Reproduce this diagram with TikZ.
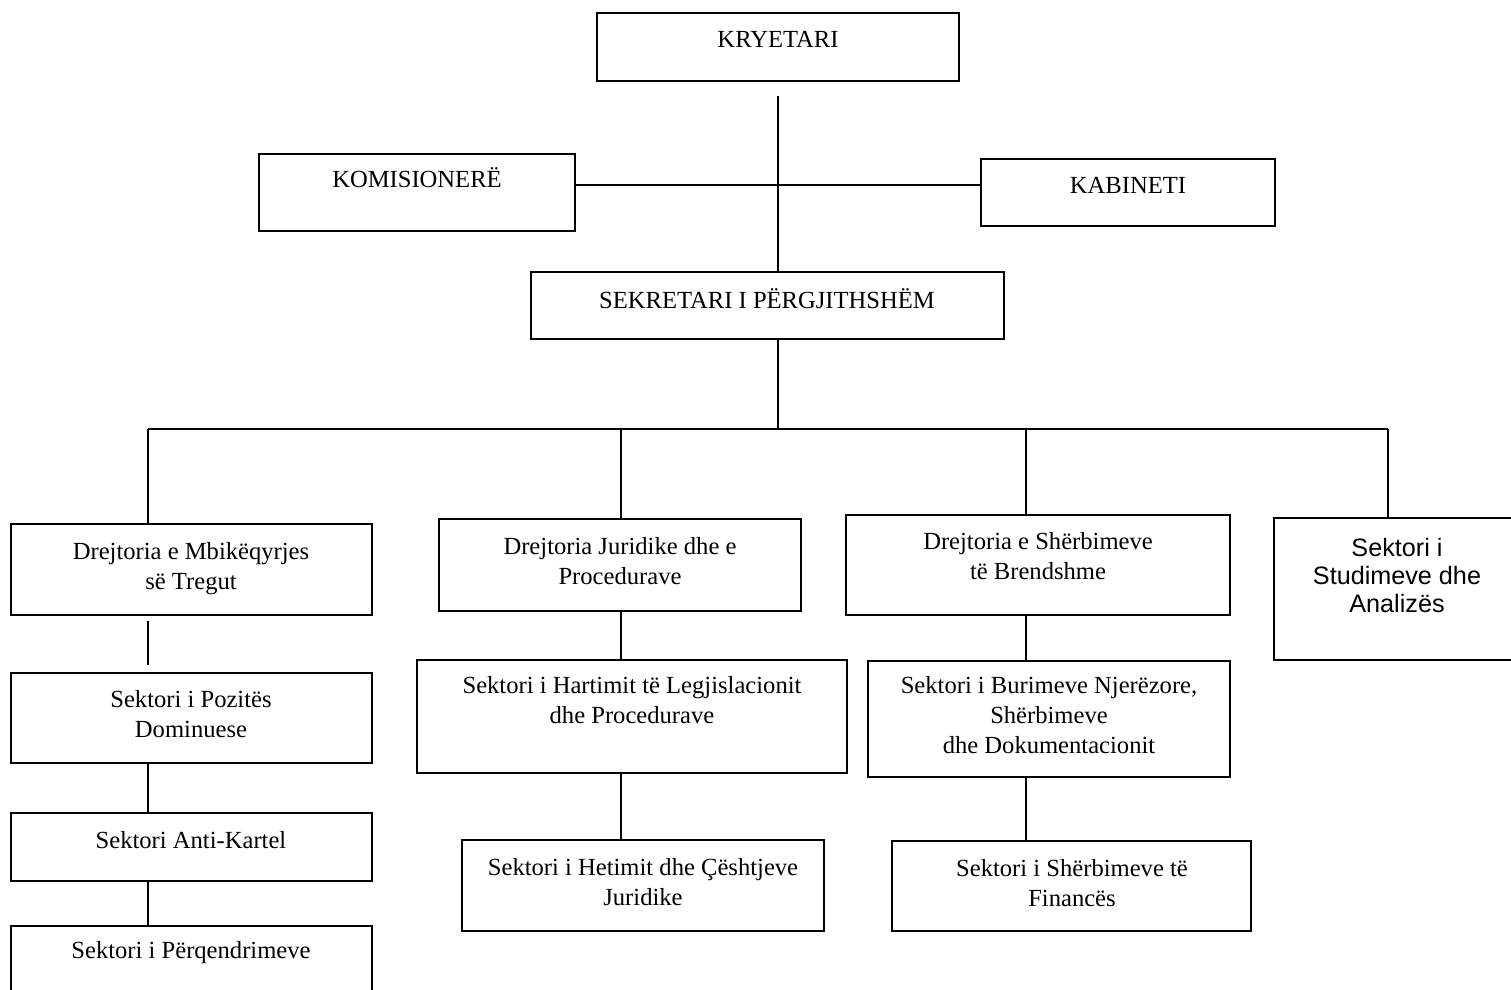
\documentclass[tikz,border=0pt]{standalone}
\usepackage{fontspec}
\setmainfont{Liberation Serif}
\newfontfamily\arialfont{Liberation Sans}
\newcommand\orgbox[5]{%
  \node[obox, minimum width={0.5pt*(#4-#2)}, minimum height={0.5pt*(#5-#3)}] (#1) at ({(#2+#4)/2},{(#3+#5)/2}) {};}
\newcommand\ml[1]{\begin{tabular}[t]{@{}c@{}}#1\end{tabular}}
\begin{document}
\begin{tikzpicture}[x=0.5pt,y=-0.5pt,
  obox/.style={draw, line width=1pt, inner sep=0pt},
  txt/.style={inner sep=0pt, anchor=base, font=\fontsize{12.3}{15}\selectfont},
  atxt/.style={inner sep=0pt, anchor=base, font=\arialfont\fontsize{12.6}{14}\selectfont},
  conn/.style={line width=0.9pt}]
\useasboundingbox (0,0) rectangle (1511,990);
\clip (0,0) rectangle (1511,990);
% boxes
\orgbox{kry}{597}{13}{959}{81}
\orgbox{kom}{259}{154}{575}{231}
\orgbox{kab}{981}{159}{1275}{226}
\orgbox{sek}{531}{272}{1004}{339}
\orgbox{d1}{11}{524}{372}{615}
\orgbox{s11}{11}{673}{372}{763}
\orgbox{s12}{11}{813}{372}{881}
\orgbox{s13}{11}{926}{372}{1010}
\orgbox{d2}{439}{519}{801}{611}
\orgbox{s21}{417}{660}{847}{773}
\orgbox{s22}{462}{840}{824}{931}
\orgbox{d3}{846}{515}{1230}{615}
\orgbox{s31}{868}{661}{1230}{777}
\orgbox{s32}{892}{841}{1251}{931}
\orgbox{d4}{1274}{518}{1530}{660}
% texts
\node[txt] (tkry) at (778,48) {KRYETARI};
\node[txt] (tkom) at (417,187) {KOMISIONERË};
\node[txt] (tkab) at (1128,193) {KABINETI};
\node[txt] (tsek) at (767,308) {SEKRETARI I PËRGJITHSHËM};
\node[txt] (td1) at (191,559) {\ml{Drejtoria e Mbikëqyrjes\\së Tregut}};
\node[txt] (ts11) at (191,707) {\ml{Sektori i Pozitës\\Dominuese}};
\node[txt] (ts12) at (191,848) {Sektori Anti-Kartel};
\node[txt] (ts13) at (191,958) {Sektori i Përqendrimeve};
\node[txt] (td2) at (620,554) {\ml{Drejtoria Juridike dhe e\\Procedurave}};
\node[txt] (ts21) at (632,693) {\ml{Sektori i Hartimit të Legjislacionit\\dhe Procedurave}};
\node[txt] (ts22) at (643,875) {\ml{Sektori i Hetimit dhe Çështjeve\\Juridike}};
\node[txt] (td3) at (1038,549) {\ml{Drejtoria e Shërbimeve\\të Brendshme}};
\node[txt] (ts31) at (1049,693) {\ml{Sektori i Burimeve Njerëzore,\\Shërbimeve\\dhe Dokumentacionit}};
\node[txt] (ts32) at (1072,876) {\ml{Sektori i Shërbimeve të\\Financës}};
\node[atxt] (td4) at (1397,556) {\ml{Sektori i\\Studimeve dhe\\Analizës}};
% connectors
\coordinate (c0) at ([yshift=-7pt]kry.south);
\draw[conn] (c0) -- (c0 |- sek.north);
\draw[conn] ([yshift=3.75pt]kom.east) -- ([yshift=3.75pt]kab.west);
\coordinate (b0) at (778,429);
\coordinate (b1) at (148,429);
\coordinate (b2) at (621,429);
\coordinate (b3) at (1026,429);
\coordinate (b4) at (1388,429);
\draw[conn] (b0 |- sek.south) -- (b0);
\draw[conn] (b1) -- (b4);
\draw[conn] (b1) -- (b1 |- d1.north);
\draw[conn] (b2) -- (b2 |- d2.north);
\draw[conn] (b3) -- (b3 |- d3.north);
\draw[conn] (b4) -- (b4 |- d4.north);
\draw[conn] ([yshift=-2.5pt]d1.south -| b1) -- ([yshift=3.5pt]s11.north -| b1);
\draw[conn] (s11.south -| b1) -- (s12.north -| b1);
\draw[conn] (s12.south -| b1) -- (s13.north -| b1);
\draw[conn] (d2.south -| b2) -- (s21.north -| b2);
\draw[conn] (s21.south -| b2) -- (s22.north -| b2);
\draw[conn] (d3.south -| b3) -- (s31.north -| b3);
\draw[conn] (s31.south -| b3) -- (s32.north -| b3);
\end{tikzpicture}
\end{document}
